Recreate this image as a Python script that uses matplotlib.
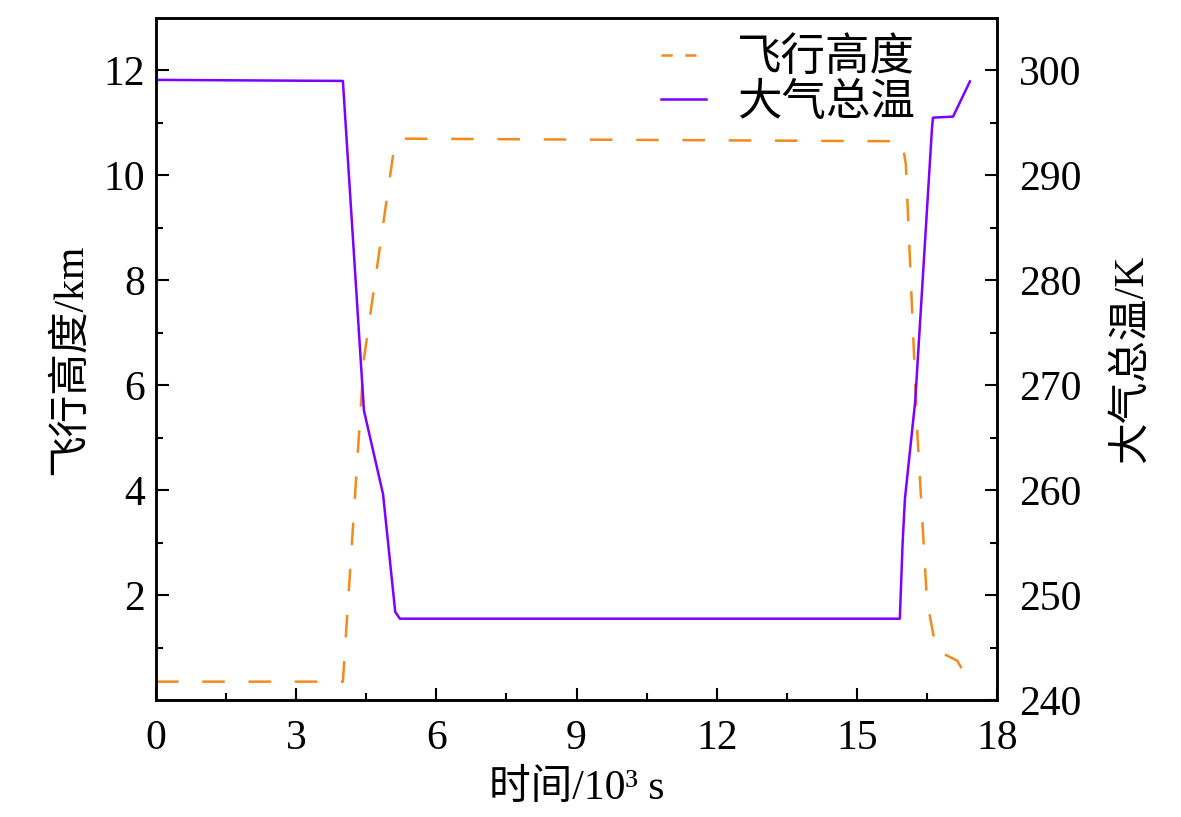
import matplotlib
matplotlib.use("Agg")
import matplotlib.pyplot as plt
from matplotlib.lines import Line2D

plt.rcParams["font.family"] = ["Liberation Serif", "Noto Sans CJK SC"]
plt.rcParams["font.size"] = 30

# flight altitude, km (left axis)
alt_time = [0.0, 4.0, 4.45, 5.1, 5.2, 15.97, 16.05, 16.3, 16.5, 16.7, 17.15, 17.4]
alt_km = [0.35, 0.35, 6.5, 10.55, 10.7, 10.65, 10.2, 5.0, 1.9, 0.95, 0.75, 0.35]

# total air temperature, K (right axis)
temp_time = [0.0, 4.0, 4.1, 4.45, 4.86, 5.12, 5.22, 15.92, 15.98, 16.03, 16.25, 16.61, 16.63, 17.06, 17.42]
temp_k = [299.1, 299.0, 292.0, 267.6, 259.6, 248.4, 247.75, 247.75, 255.0, 259.2, 268.5, 294.6, 295.5, 295.6, 298.95]

ORANGE = "#F28A1C"
PURPLE = "#7F00FF"

fig = plt.figure(figsize=(11.81, 8.17), dpi=100)
ax = fig.add_axes([0.1321, 0.1432, 0.8442 - 0.1321, 0.978 - 0.1432])
ax2 = ax.twinx()

ax.plot(alt_time, alt_km, color=ORANGE, linewidth=1.8, dashes=(9, 9.5))
line_temp, = ax2.plot(temp_time, temp_k, color=PURPLE, linewidth=1.8)

ax.set_xlim(0, 18)
ax.set_ylim(0, 13)
ax2.set_ylim(240, 305)
ax.set_xticks([0, 3, 6, 9, 12, 15, 18])
ax.set_xticks([1.5, 4.5, 7.5, 10.5, 13.5, 16.5], minor=True)
ax.set_yticks([2, 4, 6, 8, 10, 12])
ax.set_yticks([1, 3, 5, 7, 9, 11], minor=True)
ax2.set_yticks([240, 250, 260, 270, 280, 290, 300])
ax2.set_yticks([245, 255, 265, 275, 285, 295], minor=True)

for a in (ax, ax2):
    a.tick_params(which="major", direction="in", length=9, width=1.5, pad=8)
    a.tick_params(which="minor", direction="in", length=5, width=1.5)
    for s in a.spines.values():
        s.set_linewidth(1.8)
ax.tick_params(axis="x", which="both", top=False, pad=14)
ax2.tick_params(axis="y", which="major", pad=16)

ax.set_xlabel("时间/10³ s", labelpad=8)
ax.set_ylabel("飞行高度/km", labelpad=10)
ax2.set_ylabel("大气总温/K", labelpad=22)

# legend proxy with a shorter dash so the handle shows two dashes
alt_handle = Line2D([], [], color=ORANGE, linewidth=1.8, dashes=(4.5, 5))
ax.legend([alt_handle, line_temp], ["飞行高度", "大气总温"], loc="upper right",
          bbox_to_anchor=(0.95, 1.03), frameon=False, handlelength=1.0,
          handletextpad=0.7, labelspacing=0.08, prop={"size": 32})

fig.savefig("out.png", dpi=100)
